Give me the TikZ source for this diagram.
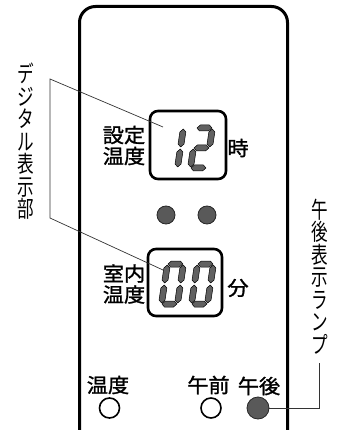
\documentclass[tikz,border=0pt]{standalone}
\usepackage{fontspec}
\setmainfont{Noto Sans CJK JP}
\newfontfamily\jpm[FakeBold=1.3]{Noto Sans CJK JP}
\newcommand\hs[1]{\scalebox{1.06}[1]{#1}}
\newcommand\vs[1]{\scalebox{0.72}[1]{#1}}
% seven-segment pieces (local units: u right, v up)
\newcommand\segH[1]{\path[segm] (3.5,#1) -- (6.5,#1+3) -- (15.5,#1+3) -- (18.5,#1) -- (15.5,#1-3) -- (6.5,#1-3) -- cycle;}
\newcommand\segV[3]{\path[segm] (#1,#2) -- (#1+3,#2+3) -- (#1+3,#3-3) -- (#1,#3) -- (#1-3,#3-3) -- (#1-3,#2+3) -- cycle;}
\newcommand\sgA{\segH{43}}
\newcommand\sgG{\segH{23}}
\newcommand\sgD{\segH{3}}
\newcommand\sgB{\segV{19}{24}{42}}
\newcommand\sgC{\segV{19}{4}{22}}
\newcommand\sgE{\segV{3}{4}{22}}
\newcommand\sgF{\segV{3}{24}{42}}
\newcommand\digitAt[3]{\begin{scope}[shift={(#1,#2)},y=1pt,xslant=0.15]#3\end{scope}}
\begin{document}
\begin{tikzpicture}[x=1pt,y=-1pt,
  panel/.style={draw, line width=3pt, rounded corners=16pt},
  disp/.style={draw, line width=2.6pt, rounded corners=8pt, inner sep=0pt},
  lbl/.style={font=\jpm\fontsize{20}{21}\selectfont, align=center, inner sep=0pt},
  vlbl/.style={font=\fontsize{23}{22.5}\selectfont, align=center, inner sep=0pt},
  leader/.style={draw=black!80, line width=0.7pt},
  segm/.style={fill=black!62, draw=black, line width=0.5pt, line join=round},
  lamp/.style={circle, draw, line width=1.6pt, minimum size=20pt, inner sep=0pt},
  lampon/.style={circle, draw=black!85, fill=black!65, line width=0.8pt, minimum size=22pt, inner sep=0pt},
  dotlamp/.style={circle, draw=black!85, fill=black!65, line width=0.8pt, minimum size=18pt, inner sep=0pt},
]
\path[use as bounding box] (0,0) rectangle (347,430);
\clip (0,0) rectangle (347,430);

% panel
\draw[panel] (79.5,470) -- (79.5,6.5) -- (287.5,6.5) -- (287.5,470);

% displays
\node[disp, minimum width=76pt, minimum height=68pt] (d1) at (188,145) {};
\node[disp, minimum width=74pt, minimum height=67pt] (d2) at (185,282.5) {};

% digits 12
\digitAt{158}{171}{\sgB\sgC}
\digitAt{187}{171}{\sgA\sgB\sgG\sgE\sgD}
% digits 00
\digitAt{158}{307}{\sgA\sgB\sgC\sgD\sgE\sgF}
\digitAt{188}{307}{\sgA\sgB\sgC\sgD\sgE\sgF}

% labels beside displays
\node[lbl] (set) at (124,145.5) {\hs{設定}\\\hs{温度}};
\node[lbl] (room) at (124,284) {\hs{室内}\\\hs{温度}};
\node[lbl] (hour) at (238,148) {\hs{時}};
\node[lbl] (min) at (238,288) {\hs{分}};

% dots
\node[dotlamp] (dot1) at (166,215) {};
\node[dotlamp] (dot2) at (207,215) {};

% bottom lamps
\node[lbl] (temp) at (108,385) {\hs{温度}};
\node[lbl] (am) at (208.5,385) {\hs{午前}};
\node[lbl] (pm) at (259,386) {\hs{午後}};
\node[lamp] (templamp) at (109.5,408) {};
\node[lamp] (amlamp) at (211,408) {};
\node[lampon] (pmlamp) at (258,408) {};

% vertical callout labels
\node[vlbl] (dlab) at (26,141.5) {\vs{デ}\\\vs{ジ}\\\vs{タ}\\\vs{ル}\\\vs{表}\\\vs{示}\\\vs{部}};
\node[vlbl] (plab) at (320,276.5) {\vs{午}\\\vs{後}\\\vs{表}\\\vs{示}\\\vs{ラ}\\\vs{ン}\\\vs{プ}};

% leaders
\coordinate (p1) at (163,127);
\coordinate (k1) at (50,79);
\coordinate (k2) at (50,218);
\coordinate (p2) at (163,270);
\draw[leader] (p1) -- (k1) -- (k2) -- (p2);
\coordinate (k3) at (319,408);
\coordinate (k4) at (319,363);
\draw[leader] (pmlamp.east) -- (k3) -- (k4);
\end{tikzpicture}
\end{document}
